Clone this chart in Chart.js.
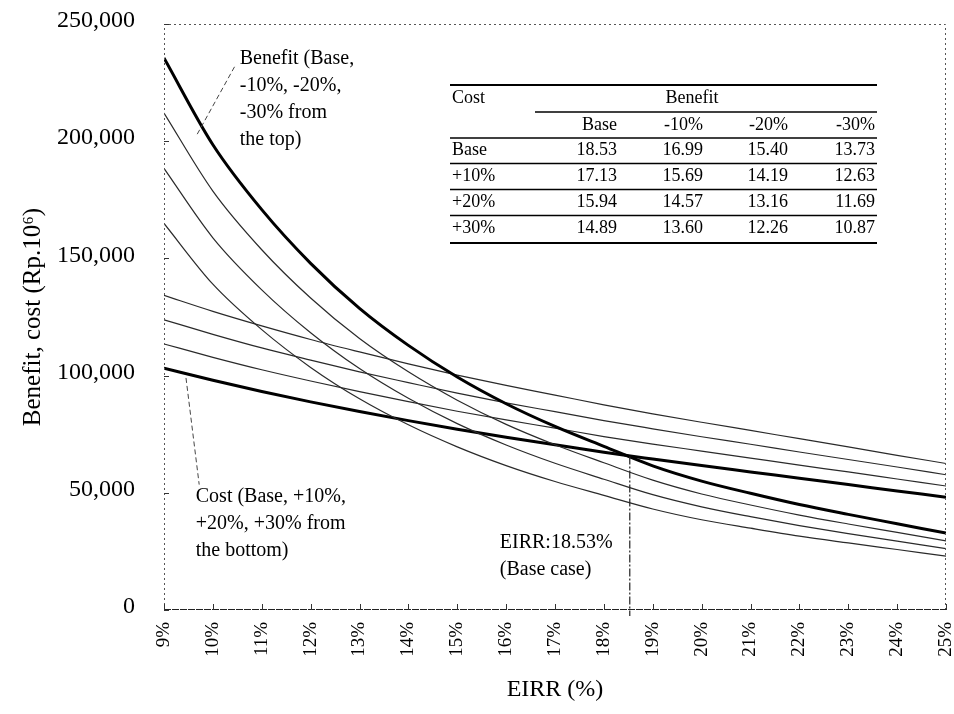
<!DOCTYPE html>
<html>
<head>
<meta charset="utf-8">
<script src="https://cdn.jsdelivr.net/npm/chart.js@4.4.1/dist/chart.umd.min.js"></script>
<style>
html,body{margin:0;padding:0;background:#fff;}
#wrap{position:relative;width:954px;height:714px;}
</style>
</head>
<body>
<div id="wrap"><canvas id="c" width="954" height="714"></canvas></div>
<script>
/* ── DATA (Rp. million) ── */
var eirrPct = [9,10,11,12,13,14,15,16,17,18,19,20,21,22,23,24,25];

var benefitBase = [235500,198500,170800,147900,128700,112900,99400,88000,78300,69800,61500,55000,49800,45000,40800,36800,32800];
var benefitM10  = [212000,178700,153700,133100,115800,101600,89500,79200,70500,62800,55400,49500,44800,40500,36700,33100,29500];
var benefitM20  = [188400,158800,136600,118300,103000,90300,79500,70400,62600,55800,49200,44000,39800,36000,32600,29400,26200];
var benefitM30  = [164900,139000,119600,103500,90100,79000,69600,61600,54800,48900,43100,38500,34900,31500,28600,25800,23000];

var costBase = [103200,98000,93200,88800,84700,80800,77100,73700,70500,67300,64400,61600,58900,56200,53500,50800,48100];
var costP10  = [113500,107800,102500,97700,93200,88900,84800,81100,77600,74000,70800,67800,64800,61800,58900,55900,52900];
var costP20  = [123800,117600,111800,106600,101600,97000,92500,88400,84600,80800,77300,73900,70700,67400,64200,61000,57700];
var costP30  = [134200,127400,121200,115400,110100,105000,100200,95800,91700,87500,83700,80100,76600,73100,69600,66000,62500];

var yTicks = [0,50000,100000,150000,200000,250000];

var baseCaseEirr = 18.53;
var baseCaseValue = 65500;

var tableCostRows = ['Base','+10%','+20%','+30%'];
var tableBenefitCols = ['Base','-10%','-20%','-30%'];
var tableEirr = [
  [18.53,16.99,15.40,13.73],
  [17.13,15.69,14.19,12.63],
  [15.94,14.57,13.16,11.69],
  [14.89,13.60,12.26,10.87]
];

var SERIF = "'Liberation Serif','Times New Roman',serif";

function pts(arr){
  return eirrPct.map(function(x, i){ return {x: x, y: arr[i]}; });
}

function lineSet(label, arr, thick){
  return {
    label: label,
    data: pts(arr),
    borderColor: thick ? '#000' : '#2a2a2a',
    borderWidth: thick ? 3 : 1.2,
    pointRadius: 0,
    fill: false,
    cubicInterpolationMode: 'monotone'
  };
}

/* ── Frame, ticks, notes, table ── */
var overlay = {
  id: 'overlay',
  afterDatasetsDraw: function(chart){
    var ctx = chart.ctx, a = chart.chartArea;
    var xs = chart.scales.x, ys = chart.scales.y;
    ctx.save();

    // frame
    ctx.strokeStyle = '#555';
    ctx.lineWidth = 1;
    ctx.setLineDash([2,3]);
    ctx.beginPath();
    ctx.moveTo(a.left + 0.5, a.bottom); ctx.lineTo(a.left + 0.5, a.top + 0.5);
    ctx.lineTo(a.right - 0.5, a.top + 0.5); ctx.lineTo(a.right - 0.5, a.bottom);
    ctx.stroke();
    ctx.setLineDash([7,1]);
    ctx.strokeStyle = '#222';
    ctx.beginPath();
    ctx.moveTo(a.left, a.bottom - 0.5); ctx.lineTo(a.right, a.bottom - 0.5);
    ctx.stroke();

    // inward ticks
    ctx.setLineDash([]);
    ctx.strokeStyle = '#333';
    ctx.beginPath();
    xs.ticks.forEach(function(t){
      var px = Math.round(xs.getPixelForValue(t.value)) + 0.5;
      ctx.moveTo(px, a.bottom); ctx.lineTo(px, a.bottom - 6);
    });
    ys.ticks.forEach(function(t){
      var py = Math.round(ys.getPixelForValue(t.value)) + 0.5;
      ctx.moveTo(a.left, py); ctx.lineTo(a.left + 5, py);
    });
    ctx.stroke();

    // base case EIRR drop line
    var bx = xs.getPixelForValue(baseCaseEirr);
    ctx.setLineDash([8,2,2,2]);
    ctx.strokeStyle = '#222';
    ctx.lineWidth = 1.2;
    ctx.beginPath();
    ctx.moveTo(bx, ys.getPixelForValue(baseCaseValue));
    ctx.lineTo(bx, a.bottom + 6);
    ctx.stroke();

    // leader lines
    ctx.setLineDash([5,3]);
    ctx.lineWidth = 1;
    ctx.strokeStyle = '#444';
    ctx.beginPath();
    ctx.moveTo(xs.getPixelForValue(9.68), ys.getPixelForValue(203000));
    ctx.lineTo(xs.getPixelForValue(10.45), ys.getPixelForValue(232000));
    ctx.moveTo(xs.getPixelForValue(9.45), ys.getPixelForValue(99000));
    ctx.lineTo(xs.getPixelForValue(9.72), ys.getPixelForValue(53500));
    ctx.stroke();

    // notes
    ctx.setLineDash([]);
    ctx.fillStyle = '#000';
    ctx.font = '20px ' + SERIF;
    ctx.textAlign = 'left';
    ctx.textBaseline = 'middle';
    var nx = xs.getPixelForValue(10.55), ny = ys.getPixelForValue(235000);
    ['Benefit (Base,', '-10%, -20%,', '-30% from', 'the top)'].forEach(function(s, i){
      ctx.fillText(s, nx, ny + i * 27);
    });
    nx = xs.getPixelForValue(9.65); ny = ys.getPixelForValue(48200);
    ['Cost (Base, +10%,', '+20%, +30% from', 'the bottom)'].forEach(function(s, i){
      ctx.fillText(s, nx, ny + i * 27);
    });
    nx = xs.getPixelForValue(15.87); ny = ys.getPixelForValue(28500);
    ctx.fillText('EIRR:' + baseCaseEirr.toFixed(2) + '%', nx, ny);
    ctx.fillText('(Base case)', nx, ny + 27);

    // table
    var tL = 450, tR = 877, tTop = 85;
    var colRight = [617, 703, 788, 875];
    ctx.font = '18px ' + SERIF;
    ctx.strokeStyle = '#000';
    function rule(x1, x2, y, w){
      ctx.lineWidth = w;
      ctx.beginPath(); ctx.moveTo(x1, y); ctx.lineTo(x2, y); ctx.stroke();
    }
    rule(tL, tR, tTop, 2);
    ctx.textAlign = 'left';
    ctx.fillText('Cost', 452, 98);
    ctx.textAlign = 'center';
    ctx.fillText('Benefit', 692, 98);
    rule(535, tR, 112, 1.3);
    ctx.textAlign = 'right';
    tableBenefitCols.forEach(function(c, j){ ctx.fillText(c, colRight[j], 125); });
    rule(tL, tR, 138, 1.6);
    var rowY = [150, 176, 202, 228];
    tableCostRows.forEach(function(r, i){
      ctx.textAlign = 'left';
      ctx.fillText(r, 452, rowY[i]);
      ctx.textAlign = 'right';
      tableEirr[i].forEach(function(v, j){ ctx.fillText(v.toFixed(2), colRight[j], rowY[i]); });
      if(i < 3) rule(tL, tR, rowY[i] + 13.5, 1.6);
    });
    rule(tL, tR, 243, 2.2);

    ctx.restore();
  }
};

new Chart(document.getElementById('c').getContext('2d'), {
  type: 'line',
  data: {
    datasets: [
      lineSet('Benefit base', benefitBase, true),
      lineSet('Benefit -10%', benefitM10, false),
      lineSet('Benefit -20%', benefitM20, false),
      lineSet('Benefit -30%', benefitM30, false),
      lineSet('Cost base', costBase, true),
      lineSet('Cost +10%', costP10, false),
      lineSet('Cost +20%', costP20, false),
      lineSet('Cost +30%', costP30, false)
    ]
  },
  options: {
    responsive: false,
    animation: false,
    devicePixelRatio: 1,
    layout: { padding: { top: 24, right: 8, bottom: 0, left: 0 } },
    plugins: { legend: { display: false }, tooltip: { enabled: false } },
    scales: {
      x: {
        type: 'linear', min: 9, max: 25,
        afterBuildTicks: function(s){ s.ticks = eirrPct.map(function(v){ return {value: v}; }); },
        afterFit: function(s){ s.height = 104; s.paddingLeft = 0; s.paddingRight = 0; },
        grid: { display: false, drawTicks: false },
        border: { display: false },
        ticks: {
          color: '#000', padding: 12, minRotation: 90, maxRotation: 90,
          font: { family: SERIF, size: 19 },
          callback: function(v){ return v + '%'; }
        },
        title: {
          display: true, text: 'EIRR (%)', color: '#000',
          font: { family: SERIF, size: 24 }, padding: { top: 0, bottom: 10 }
        }
      },
      y: {
        min: 0, max: 250000,
        afterBuildTicks: function(s){ s.ticks = yTicks.map(function(v){ return {value: v}; }); },
        afterFit: function(s){ s.width = 164; s.paddingTop = 0; s.paddingBottom = 0; },
        grid: { display: false, drawTicks: false },
        border: { display: false },
        ticks: {
          color: '#000', padding: 29, labelOffset: -3,
          font: { family: SERIF, size: 24 },
          callback: function(v){ return v.toLocaleString('en-US'); }
        },
        title: {
          display: true, text: 'Benefit, cost (Rp.10\u2076)', color: '#000',
          font: { family: SERIF, size: 25 }, padding: { top: 18, bottom: 0 }
        }
      }
    }
  },
  plugins: [overlay]
});
</script>
</body>
</html>
